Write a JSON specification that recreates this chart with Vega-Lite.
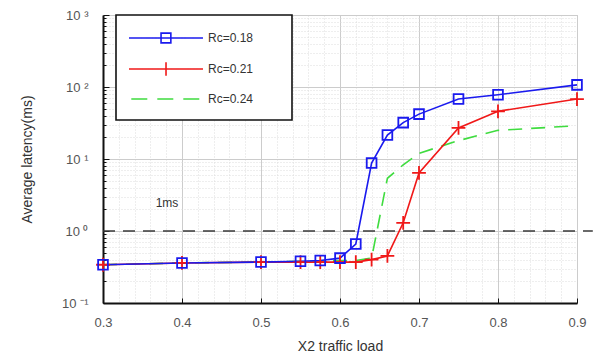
{
  "$schema": "https://vega.github.io/schema/vega-lite/v6.json",
  "width": 474,
  "height": 288,
  "autosize": {"type": "none"},
  "padding": {"left": 103, "top": 15, "right": 20, "bottom": 59},
  "background": "white",
  "config": {"font": "Liberation Sans", "view": {"stroke": "#c4c4c4", "strokeWidth": 1}, "legend": {"strokeWidth": 1.6}},
  "datasets": {
    "curves": [
      {"s": "Rc=0.18", "x": 0.3, "y": 0.34}, {"s": "Rc=0.18", "x": 0.4, "y": 0.36}, {"s": "Rc=0.18", "x": 0.5, "y": 0.37},
      {"s": "Rc=0.18", "x": 0.55, "y": 0.38}, {"s": "Rc=0.18", "x": 0.575, "y": 0.39}, {"s": "Rc=0.18", "x": 0.6, "y": 0.42},
      {"s": "Rc=0.18", "x": 0.62, "y": 0.66}, {"s": "Rc=0.18", "x": 0.64, "y": 8.8}, {"s": "Rc=0.18", "x": 0.66, "y": 21.5},
      {"s": "Rc=0.18", "x": 0.68, "y": 32}, {"s": "Rc=0.18", "x": 0.7, "y": 42}, {"s": "Rc=0.18", "x": 0.75, "y": 68},
      {"s": "Rc=0.18", "x": 0.8, "y": 78}, {"s": "Rc=0.18", "x": 0.9, "y": 107},
      {"s": "Rc=0.21", "x": 0.3, "y": 0.34}, {"s": "Rc=0.21", "x": 0.4, "y": 0.36}, {"s": "Rc=0.21", "x": 0.5, "y": 0.37},
      {"s": "Rc=0.21", "x": 0.55, "y": 0.37}, {"s": "Rc=0.21", "x": 0.575, "y": 0.37}, {"s": "Rc=0.21", "x": 0.6, "y": 0.37},
      {"s": "Rc=0.21", "x": 0.62, "y": 0.37}, {"s": "Rc=0.21", "x": 0.64, "y": 0.4}, {"s": "Rc=0.21", "x": 0.66, "y": 0.45},
      {"s": "Rc=0.21", "x": 0.68, "y": 1.3}, {"s": "Rc=0.21", "x": 0.7, "y": 6.4}, {"s": "Rc=0.21", "x": 0.75, "y": 27},
      {"s": "Rc=0.21", "x": 0.8, "y": 46}, {"s": "Rc=0.21", "x": 0.9, "y": 68},
      {"s": "Rc=0.24", "x": 0.3, "y": 0.34}, {"s": "Rc=0.24", "x": 0.4, "y": 0.36}, {"s": "Rc=0.24", "x": 0.5, "y": 0.37},
      {"s": "Rc=0.24", "x": 0.55, "y": 0.38}, {"s": "Rc=0.24", "x": 0.6, "y": 0.39}, {"s": "Rc=0.24", "x": 0.62, "y": 0.39},
      {"s": "Rc=0.24", "x": 0.64, "y": 0.42}, {"s": "Rc=0.24", "x": 0.66, "y": 5.4}, {"s": "Rc=0.24", "x": 0.68, "y": 8.3},
      {"s": "Rc=0.24", "x": 0.7, "y": 12}, {"s": "Rc=0.24", "x": 0.75, "y": 18}, {"s": "Rc=0.24", "x": 0.8, "y": 25},
      {"s": "Rc=0.24", "x": 0.9, "y": 29}
    ],
    "threshold": [{"x": 0.3, "x2": 0.92, "y": 1}],
    "note": [{"x": 0.381, "y": 2.45, "t": "1ms"}]
  },
  "encoding": {
    "x": {
      "field": "x", "type": "quantitative",
      "scale": {"domain": [0.3, 0.9], "nice": false, "zero": false},
      "axis": {
        "values": [0.3,0.32,0.34,0.36,0.38,0.4,0.42,0.44,0.46,0.48,0.5,0.52,0.54,0.56,0.58,0.6,0.62,0.64,0.66,0.68,0.7,0.72,0.74,0.76,0.78,0.8,0.82,0.84,0.86,0.88,0.9],
        "labelExpr": "abs(datum.value*10 - round(datum.value*10)) < 0.001 ? format(datum.value, '.1f') : ''",
        "labelOverlap": false, "labelFlush": false,
        "labelFontSize": 13, "labelColor": "#555555", "labelPadding": 18,
        "title": "X2 traffic load", "titleFontSize": 14, "titleFontWeight": "normal", "titleColor": "#333333", "titlePadding": 5,
        "domainColor": "#111111", "domainWidth": 2,
        "grid": true,
        "gridColor": {"condition": {"test": "abs(datum.value*10 - round(datum.value*10)) < 0.001", "value": "#cccccc"}, "value": "#dcdcdc"},
        "gridDash": {"condition": {"test": "abs(datum.value*10 - round(datum.value*10)) < 0.001", "value": []}, "value": [1, 2]},
        "tickColor": "#111111",
        "tickSize": {"condition": {"test": "abs(datum.value*10 - round(datum.value*10)) < 0.001", "value": -5}, "value": 0}
      }
    },
    "y": {
      "field": "y", "type": "quantitative",
      "scale": {"type": "log", "domain": [0.1, 1000], "nice": false},
      "axis": {
        "values": [0.1,0.2,0.3,0.4,0.5,0.6,0.7,0.8,0.9,1,2,3,4,5,6,7,8,9,10,20,30,40,50,60,70,80,90,100,200,300,400,500,600,700,800,900,1000],
        "labelExpr": "abs(log(datum.value)/LN10 - round(log(datum.value)/LN10)) < 0.001 ? '10 ' + ['⁻¹','⁰','¹','²','³'][round(log(datum.value)/LN10)+1] : ''",
        "labelOverlap": false, "labelFlush": false,
        "labelFontSize": 13, "labelColor": "#555555", "labelPadding": 21,
        "title": "Average latency(ms)", "titleFontSize": 14, "titleFontWeight": "normal", "titleColor": "#333333", "titlePadding": 27,
        "domainColor": "#111111", "domainWidth": 2,
        "grid": true,
        "gridColor": {"condition": {"test": "abs(log(datum.value)/LN10 - round(log(datum.value)/LN10)) < 0.001", "value": "#cccccc"}, "value": "#dcdcdc"},
        "gridDash": {"condition": {"test": "abs(log(datum.value)/LN10 - round(log(datum.value)/LN10)) < 0.001", "value": []}, "value": [1, 2]},
        "tickColor": "#111111",
        "tickSize": {"condition": {"test": "abs(log(datum.value)/LN10 - round(log(datum.value)/LN10)) < 0.001", "value": -6}, "value": -3}
      }
    }
  },
  "layer": [
    {
      "data": {"name": "threshold"},
      "mark": {"type": "rule", "clip": false, "color": "#3a3a3a", "strokeWidth": 1.6, "strokeDash": [12, 8]},
      "encoding": {"x2": {"field": "x2"}}
    },
    {
      "data": {"name": "note"},
      "mark": {"type": "text", "fontSize": 12, "color": "#333333", "align": "center", "baseline": "middle"},
      "encoding": {"text": {"field": "t"}}
    },
    {
      "data": {"name": "curves"},
      "transform": [{"filter": "datum.s == 'Rc=0.24'"}],
      "mark": {"type": "line", "strokeWidth": 1.6, "color": "#3fdc3f", "strokeDash": [14, 9]}
    },
    {
      "data": {"name": "curves"},
      "transform": [{"filter": "datum.s == 'Rc=0.21'"}],
      "mark": {"type": "line", "strokeWidth": 1.6, "color": "#f01818"}
    },
    {
      "data": {"name": "curves"},
      "transform": [{"filter": "datum.s == 'Rc=0.18'"}],
      "mark": {"type": "line", "strokeWidth": 1.6, "color": "#1a1aee"}
    },
    {
      "data": {"name": "curves"},
      "transform": [{"filter": "datum.s == 'Rc=0.21'"}],
      "mark": {"type": "point", "shape": "M-1,0H1M0,-1V1", "filled": false, "size": 190, "strokeWidth": 1.8, "color": "#f01818", "opacity": 1}
    },
    {
      "data": {"name": "curves"},
      "transform": [{"filter": "datum.s == 'Rc=0.18'"}],
      "mark": {"type": "point", "shape": "square", "filled": false, "size": 95, "strokeWidth": 1.8, "color": "#1a1aee", "opacity": 1}
    },
    {
      "data": {"name": "curves"},
      "transform": [{"filter": "false"}],
      "mark": {"type": "point", "filled": false, "strokeWidth": 1.6},
      "encoding": {
        "color": {
          "field": "s", "type": "nominal",
          "scale": {"domain": ["Rc=0.18", "Rc=0.21", "Rc=0.24"], "range": ["#1a1aee", "#f01818", "#3fdc3f"]},
          "legend": {
            "title": "\u00a0", "titleOrient": "right", "titlePadding": 24,
            "orient": "none", "legendX": 13, "legendY": 0,
            "fillColor": "white", "strokeColor": "#111111", "padding": 15,
            "symbolSize": 196, "symbolStrokeWidth": 1.6, "symbolOpacity": 1, "symbolFillColor": "transparent",
            "labelOffset": 61, "labelFontSize": 12, "labelColor": "#333333", "rowPadding": 12
          }
        },
        "shape": {
          "field": "s", "type": "nominal",
          "scale": {"domain": ["Rc=0.18", "Rc=0.21", "Rc=0.24"], "range": [
            "M-1.43,0H9.14M3.15,-0.7H4.55V0.7H3.15Z",
            "M-1.43,0H9.14M3.86,-0.95V0.95",
            "M-1.1,0H9.14"
          ]}
        },
        "strokeDash": {"field": "s", "type": "nominal", "scale": {"domain": ["Rc=0.18", "Rc=0.21", "Rc=0.24"], "range": [[1, 0], [1, 0], [16, 10]]}}
      }
    }
  ]
}
